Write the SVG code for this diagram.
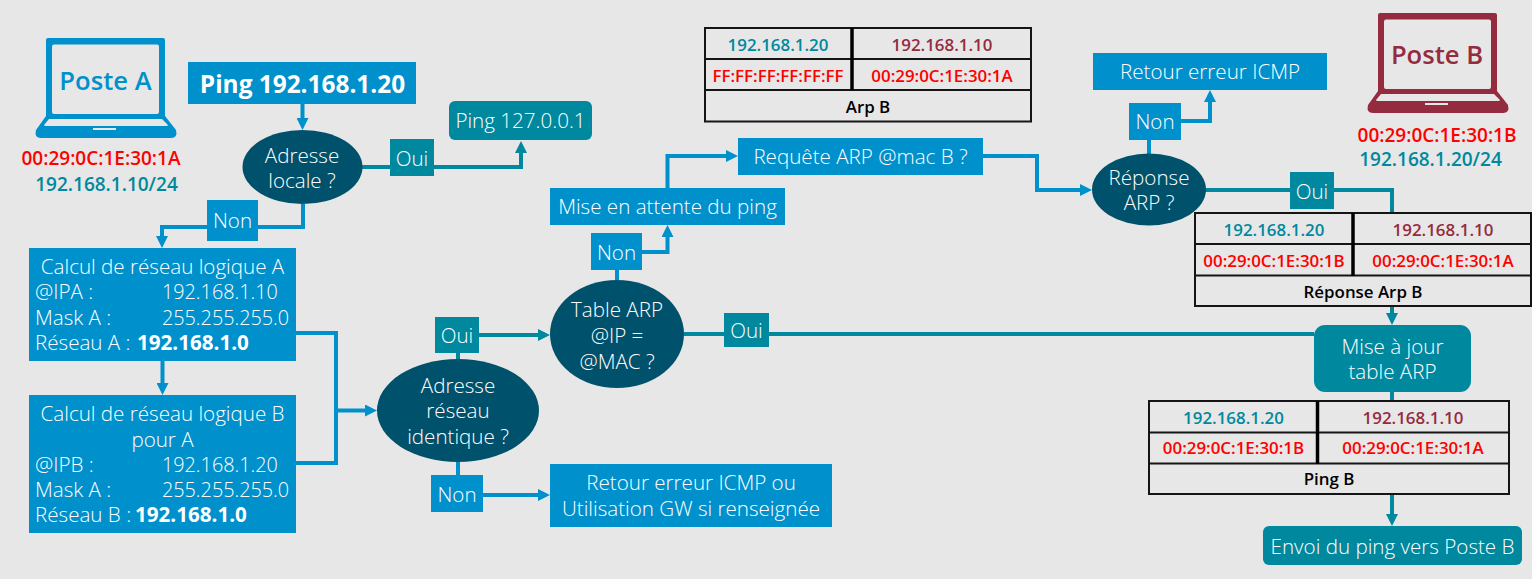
<svg xmlns="http://www.w3.org/2000/svg" width="1532" height="579" viewBox="0 0 1532 579">
<style>
text{font-family:"Open Sans","Noto Sans","Liberation Sans",sans-serif}
.t{font-size:20.6px;fill:#fff;font-weight:300;text-anchor:middle}
.l{font-size:20.6px;fill:#fff;font-weight:300}
.v{font-size:19.8px;fill:#fff;font-weight:300}
.b{font-weight:700}
.blue{fill:#0090cc}.teal{fill:#00889f}.dark{fill:#00516b}
.cb,.ct{fill:none;stroke-width:4}
.cb{stroke:#0090cc}.ct{stroke:#00889f}
.cell{fill:#e6e7e6;stroke:#151515;stroke-width:2}
.div{stroke:#000;stroke-width:3.5}
.row{stroke:#151515;stroke-width:2}
.m{font-size:16.9px;font-weight:600;text-anchor:middle}
.mac{fill:#f00}.ipb{fill:#00889f}.ipr{fill:#952b3f}.cap{fill:#000}
.big{font-size:19px;font-weight:600;text-anchor:middle}
.poste{font-size:25.6px;font-weight:600;text-anchor:middle}
</style>
<defs>
<marker id="ab" viewBox="0 0 12 12" markerWidth="12" markerHeight="12" markerUnits="userSpaceOnUse" refX="2" refY="6" orient="auto"><path d="M0,0L12,6L0,12Z" fill="#0090cc"/></marker>
<marker id="at" viewBox="0 0 12 12" markerWidth="12" markerHeight="12" markerUnits="userSpaceOnUse" refX="2" refY="6" orient="auto"><path d="M0,0L12,6L0,12Z" fill="#00889f"/></marker>
<path id="laptop" fill-rule="evenodd" d="M13,0H128Q130,0 130,2V78L141,92Q143,100 136,100H6Q-1,100 1,92L11,78V2Q11,0 13,0ZM19,6.500Q17,6.500 17,8.500V74Q17,76 19,76H122Q124,76 124,74V8.500Q124,6.500 122,6.500ZM14,81L9,87Q9,88 11,88H131Q133,88 133,87L127,81ZM58,90V92H81V90Z"/>
</defs>
<rect width="1532" height="579" fill="#e6e7e6"/>

<g id="connectors">
<path class="cb" d="M302.500,104V120" marker-end="url(#ab)"/>
<path class="ct" d="M362,167H521V151" marker-end="url(#at)"/>
<path class="cb" d="M303,204V227H162V238" marker-end="url(#ab)"/>
<path class="cb" d="M162.500,361V385" marker-end="url(#ab)"/>
<path class="cb" d="M296,333H336V463H296"/>
<path class="cb" d="M336,410.500H367" marker-end="url(#ab)"/>
<path class="ct" d="M458,359V335H540" marker-end="url(#at)"/>
<path class="cb" d="M458,461V495H540" marker-end="url(#ab)"/>
<path class="cb" d="M617,280V252H667.500V235" marker-end="url(#ab)"/>
<path class="cb" d="M667.500,188V156H728" marker-end="url(#ab)"/>
<path class="cb" d="M983,156H1037V190H1082" marker-end="url(#ab)"/>
<path class="cb" d="M1149,154V121H1210V100" marker-end="url(#ab)"/>
<path class="ct" d="M1205,190H1392V315" marker-end="url(#at)"/>
<path class="ct" d="M684,334H1314"/>
<path class="ct" d="M1392,392V516" marker-end="url(#at)"/>
</g>

<g id="poste-a">
<use href="#laptop" x="35" y="38" class="blue"/>
<text x="105.500" y="90" class="poste blue">Poste A</text>
<text x="101" y="165" class="big mac">00:29:0C:1E:30:1A</text>
<text x="106.500" y="191" class="big ipb">192.168.1.10/24</text>
</g>
<g id="poste-b">
<use href="#laptop" x="1367" y="13" fill="#952b3f"/>
<text x="1437" y="64" class="poste ipr">Poste B</text>
<text x="1437" y="142" class="big mac">00:29:0C:1E:30:1B</text>
<text x="1430.500" y="166" class="big ipb">192.168.1.20/24</text>
</g>

<g id="ping-cmd"><rect x="188" y="62" width="228" height="42" class="blue"/><text x="302.500" y="93" class="t b" style="font-size:24.4px">Ping 192.168.1.20</text></g>
<g id="adresse-locale"><ellipse cx="302.500" cy="167" rx="60" ry="37" class="dark"/><text x="302" y="163" class="t">Adresse</text><text x="302" y="188" class="t">locale ?</text></g>
<g id="oui-1"><rect x="390" y="139" width="44" height="37" class="teal"/><text x="412" y="166" class="t">Oui</text></g>
<g id="ping-local"><rect x="449" y="101" width="143" height="39" rx="6" class="teal"/><text x="520.500" y="128" class="t">Ping 127.0.0.1</text></g>
<g id="non-1"><rect x="207" y="200" width="51" height="41" class="blue"/><text x="232.500" y="228" class="t">Non</text></g>
<g id="calcul-a"><rect x="29" y="248" width="267" height="113" class="blue"/>
<text x="162.500" y="274" class="t">Calcul de réseau logique A</text>
<text x="35" y="299" class="l">@IPA :</text><text x="162" y="299" class="v">192.168.1.10</text>
<text x="35" y="325" class="l">Mask A :</text><text x="162" y="325" class="v">255.255.255.0</text>
<text x="35" y="350" class="l">Réseau A : <tspan class="b" x="137">192.168.1.0</tspan></text></g>
<g id="calcul-b"><rect x="29" y="395" width="267" height="138" class="blue"/>
<text x="162.500" y="421" class="t">Calcul de réseau logique B</text>
<text x="162.500" y="447" class="t">pour A</text>
<text x="35" y="472" class="l">@IPB :</text><text x="162" y="472" class="v">192.168.1.20</text>
<text x="35" y="497" class="l">Mask A :</text><text x="162" y="497" class="v">255.255.255.0</text>
<text x="35" y="522" class="l">Réseau B : <tspan class="b" x="135">192.168.1.0</tspan></text></g>
<g id="adresse-reseau"><ellipse cx="458" cy="410.500" rx="81" ry="51.500" class="dark"/><text x="458" y="393" class="t">Adresse</text><text x="458" y="418" class="t">réseau</text><text x="458" y="444" class="t">identique ?</text></g>
<g id="oui-2"><rect x="435" y="317" width="44" height="36" class="teal"/><text x="457" y="343" class="t">Oui</text></g>
<g id="non-2"><rect x="431" y="475" width="52" height="37" class="blue"/><text x="457" y="502" class="t">Non</text></g>
<g id="retour-gw"><rect x="550" y="464" width="282" height="63" class="blue"/><text x="691" y="490" class="t">Retour erreur ICMP ou</text><text x="691" y="516" class="t">Utilisation GW si renseignée</text></g>
<g id="table-arp"><ellipse cx="617" cy="334" rx="67" ry="54" class="dark"/><text x="617" y="317" class="t">Table ARP</text><text x="617" y="343" class="t">@IP =</text><text x="617" y="369" class="t">@MAC ?</text></g>
<g id="oui-3"><rect x="724" y="313" width="45" height="34" class="teal"/><text x="746.500" y="338" class="t">Oui</text></g>
<g id="non-3"><rect x="591" y="233" width="51" height="37" class="blue"/><text x="616.500" y="260" class="t">Non</text></g>
<g id="attente"><rect x="550" y="188" width="235" height="37" class="blue"/><text x="667.500" y="214" class="t">Mise en attente du ping</text></g>
<g id="requete"><rect x="738" y="138" width="245" height="37" class="blue"/><text x="860.500" y="164" class="t">Requête ARP @mac B ?</text></g>
<g id="reponse-arp"><ellipse cx="1149" cy="189.500" rx="57" ry="36" class="dark"/><text x="1149" y="185" class="t">Réponse</text><text x="1149" y="210" class="t">ARP ?</text></g>
<g id="non-4"><rect x="1129" y="103" width="52" height="37" class="blue"/><text x="1155" y="129" class="t">Non</text></g>
<g id="retour-icmp"><rect x="1093" y="53" width="234" height="37" class="blue"/><text x="1210" y="79" class="t">Retour erreur ICMP</text></g>
<g id="oui-4"><rect x="1290" y="172" width="44" height="37" class="teal"/><text x="1312" y="199" class="t">Oui</text></g>

<g id="table-arp-b"><rect x="705" y="28" width="326" height="93.500" class="cell"/><path class="row" d="M705,59H1031M705,90H1031"/><path class="div" d="M852,28V90"/>
<text x="778" y="50.500" class="m ipb">192.168.1.20</text><text x="942" y="50.500" class="m ipr">192.168.1.10</text>
<text x="778" y="81.500" class="m mac">FF:FF:FF:FF:FF:FF</text><text x="942" y="81.500" class="m mac">00:29:0C:1E:30:1A</text>
<text x="868" y="112.500" class="m cap">Arp B</text></g>
<g id="table-reponse"><rect x="1195" y="213" width="336" height="93" class="cell"/><path class="row" d="M1195,244H1531M1195,275.500H1531"/><path class="div" d="M1353,213V276"/>
<text x="1274" y="236" class="m ipb">192.168.1.20</text><text x="1443" y="236" class="m ipr">192.168.1.10</text>
<text x="1274" y="266.500" class="m mac">00:29:0C:1E:30:1B</text><text x="1443" y="266.500" class="m mac">00:29:0C:1E:30:1A</text>
<text x="1363" y="298" class="m cap">Réponse Arp B</text></g>
<g id="maj"><rect x="1314" y="325" width="157" height="67" rx="11" class="teal"/><text x="1392.500" y="354" class="t">Mise à jour</text><text x="1392.500" y="379" class="t">table ARP</text></g>
<g id="table-ping"><rect x="1149" y="401" width="360" height="93" class="cell"/><path class="row" d="M1149,432.500H1509M1149,463.500H1509"/><path class="div" d="M1317.500,401V464"/>
<text x="1233.500" y="424" class="m ipb">192.168.1.20</text><text x="1413" y="424" class="m ipr">192.168.1.10</text>
<text x="1233.500" y="454" class="m mac">00:29:0C:1E:30:1B</text><text x="1413" y="454" class="m mac">00:29:0C:1E:30:1A</text>
<text x="1329" y="485" class="m cap">Ping B</text></g>
<g id="envoi"><rect x="1263" y="526" width="259" height="39" rx="6" class="teal"/><text x="1392.500" y="554" class="t">Envoi du ping vers Poste B</text></g>
</svg>
